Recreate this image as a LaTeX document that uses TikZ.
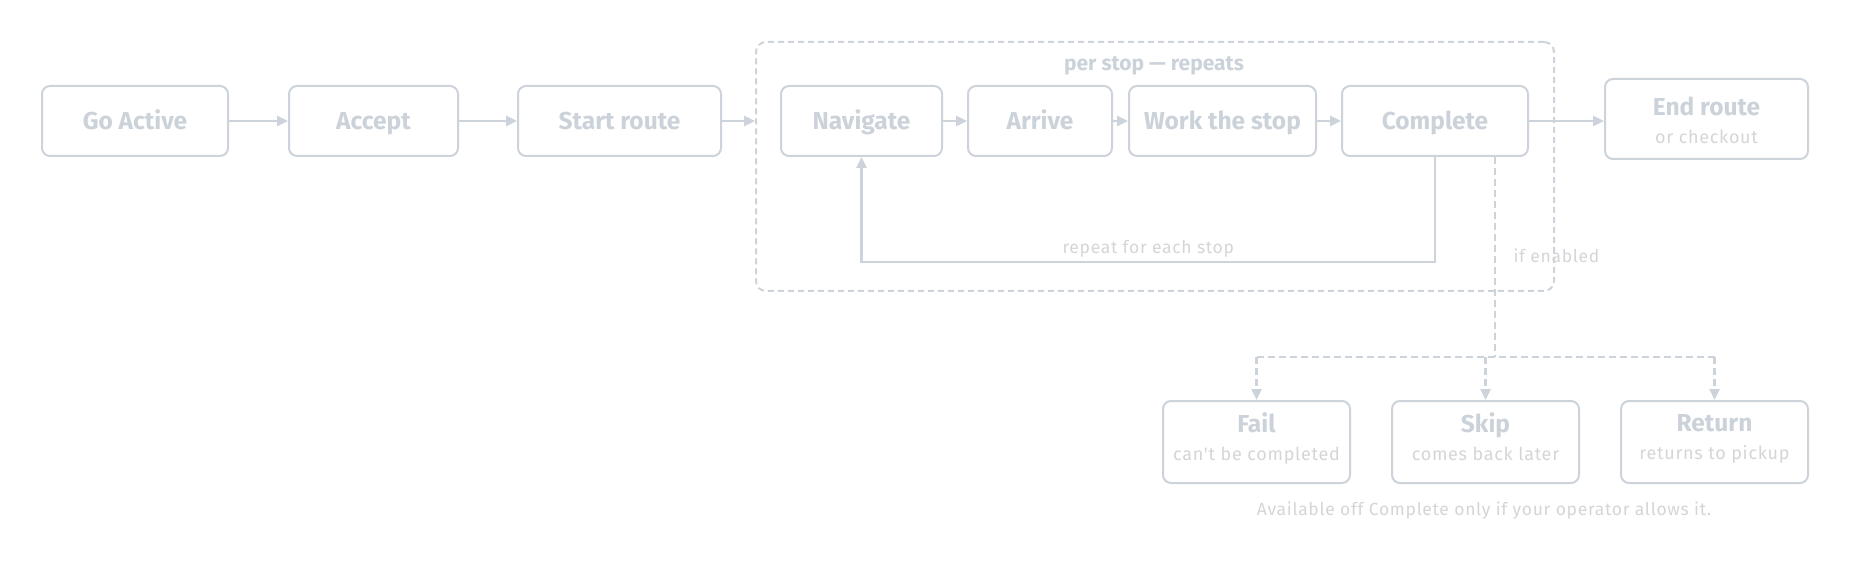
\documentclass[tikz,border=0pt]{standalone}
\usepackage{fontspec}
\setmainfont{Fira Sans}
\newfontfamily\spaced[LetterSpace=4]{Fira Sans}
\usetikzlibrary{arrows.meta}
\definecolor{edge}{HTML}{CDD3DA}
\definecolor{txt}{HTML}{CBD2D9}
\definecolor{subt}{HTML}{D4D5D7}
\newcommand{\subl}[1]{{\spaced\mdseries\fontsize{18}{20}\selectfont\color{subt}#1\vphantom{pg}}}
\newcommand{\ttl}[1]{#1\vphantom{Afl}}
\begin{document}
\begin{tikzpicture}[x=1pt,y=-1pt,
  box/.style={draw=edge, line width=2pt, rounded corners=8pt, inner sep=0pt,
    minimum height=70pt, align=center, text=txt, font=\fontsize{24.5}{26}\selectfont\bfseries},
  single/.style={text height=20pt, text depth=3pt},
  grpbox/.style={draw=edge, line width=2pt, dashed, dash pattern=on 6pt off 4pt, rounded corners=10pt,
    inner sep=0pt, minimum width=798pt, minimum height=249pt},
  arr/.style={draw=edge, line width=2.5pt, -{Triangle[length=11pt,width=10pt]}},
  dline/.style={draw=edge, line width=2.5pt, dash pattern=on 7pt off 4pt},
  lbl/.style={font=\spaced\fontsize{17.5}{20}\selectfont, text=subt}]
\useasboundingbox (0,0) rectangle (1850,561);

\node[grpbox] (grp) at (1155,166.5) {};
\node[font=\fontsize{21}{22}\selectfont\bfseries, text=txt] (grplbl) at (1154,66) {per stop — repeats};

\node[box, single, minimum width=186pt] (go) at (135,121) {Go Active};
\node[box, single, minimum width=169pt] (acc) at (373.5,121) {Accept};
\node[box, single, minimum width=203pt] (start) at (619.5,121) {Start route};
\node[box, single, minimum width=161pt] (nav) at (861.5,121) {Navigate};
\node[box, single, minimum width=144pt] (arr) at (1040,121) {Arrive};
\node[box, single, minimum width=187pt] (work) at (1222.5,121) {Work the stop};
\node[box, single, minimum width=186pt] (comp) at (1435,121) {Complete};
\node[box, minimum width=203pt, minimum height=80pt] (endr) at (1706.5,119)
  {\ttl{End route}\rule{0pt}{25.5pt}\\[2pt]\subl{or checkout}};

\node[box, minimum width=187pt, minimum height=82pt] (fail) at (1256.5,442)
  {\ttl{Fail}\\[2pt]\subl{can't be completed}\rule[-11.5pt]{0pt}{1pt}};
\node[box, minimum width=187pt, minimum height=82pt] (skip) at (1485.5,442)
  {\ttl{Skip}\\[2pt]\subl{comes back later}\rule[-11.5pt]{0pt}{1pt}};
\node[box, minimum width=187pt, minimum height=82pt] (ret) at (1714.5,442)
  {\ttl{Return}\\[2pt]\subl{returns to pickup}\rule[-11.5pt]{0pt}{1pt}};

\draw[arr] (go) -- (acc);
\draw[arr] (acc) -- (start);
\draw[arr] (start.east) -- (start.east -| grp.west);
\draw[arr] (nav) -- (arr);
\draw[arr] (arr) -- (work);
\draw[arr] (work) -- (comp);
\draw[arr] (comp.east) -- (comp.east -| endr.west);

\draw[arr] (comp.south) -- ++(0,105) -| node[pos=0.25, above, lbl] {repeat for each stop} (nav.south);

\draw[dline] ([xshift=60pt]comp.south) -- ++(0,200) coordinate (br);
\node[lbl, anchor=west] (ifen) at (1510,256) {if enabled};
\draw[dline] (fail.north |- br) -- (ret.north |- br);
\draw[dline, -{Triangle[length=11pt,width=10pt]}] (fail.north |- br) -- (fail.north);
\draw[dline, -{Triangle[length=11pt,width=10pt]}] (skip.north |- br) -- (skip.north);
\draw[dline, -{Triangle[length=11pt,width=10pt]}] (ret.north |- br) -- (ret.north);

\node[lbl] (note) at (1484,511) {Available off Complete only if your operator allows it.};
\end{tikzpicture}
\end{document}
